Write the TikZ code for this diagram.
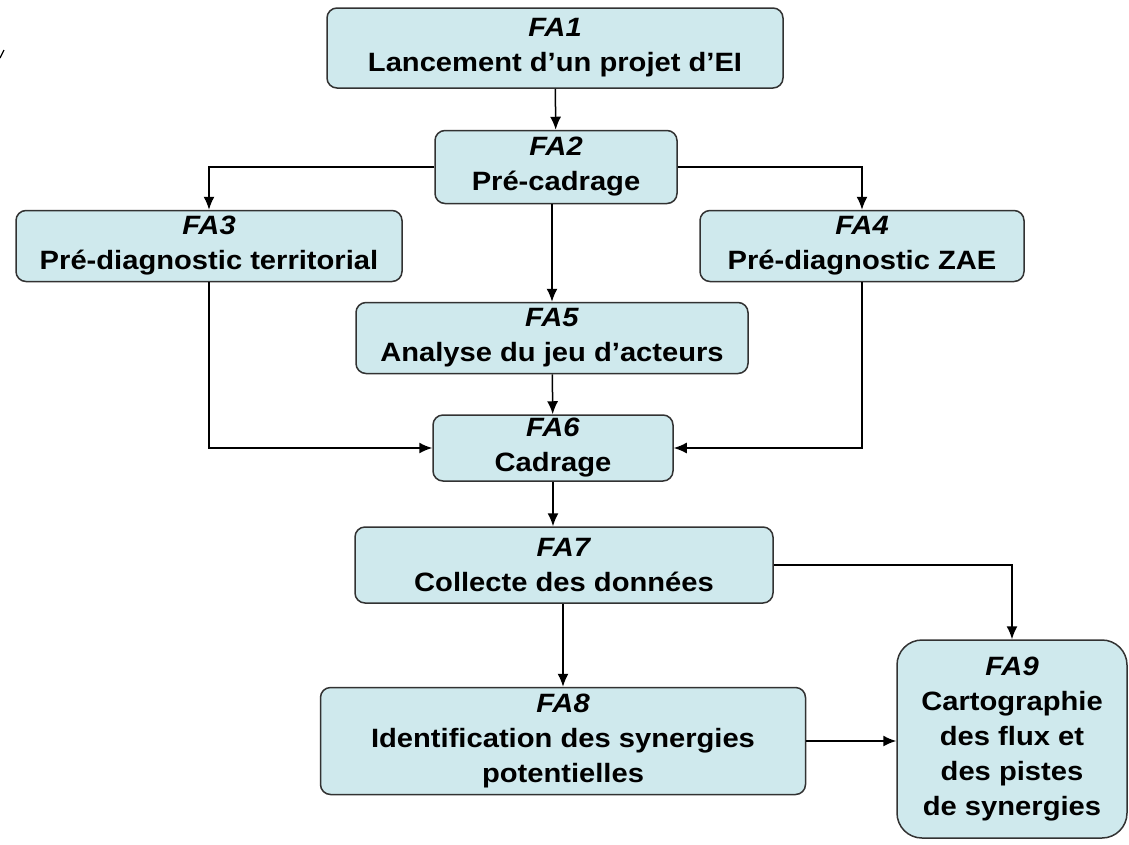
\documentclass[tikz,border=0pt]{standalone}
\usepackage{fontspec}
\setmainfont{Liberation Sans}[FakeStretch=1.1]
\usetikzlibrary{arrows.meta}
\definecolor{boxfill}{RGB}{207,233,237}
\definecolor{boxline}{RGB}{50,50,50}
\begin{document}
\begin{tikzpicture}[x=1pt,y=-1pt,
  fabox/.style={draw=boxline, line width=1.5pt, fill=boxfill, rounded corners=10pt, align=center, font=\fontsize{26.5}{35}\selectfont\bfseries, inner sep=0pt},
  conn/.style={line width=1.5pt, -{Latex[length=13pt,width=11pt]}}]
\useasboundingbox (0,0) rectangle (1129,844);
\node[fabox, minimum width=456pt, minimum height=80pt] (fa1) at (555,48) {\textit{FA1}\\Lancement d’un projet d’EI};
\node[fabox, minimum width=242pt, minimum height=73pt] (fa2) at (556,167) {\textit{FA2}\\Pré-cadrage};
\node[fabox, minimum width=386pt, minimum height=71pt] (fa3) at (209,246) {\textit{FA3}\\Pré-diagnostic territorial};
\node[fabox, minimum width=324pt, minimum height=71pt] (fa4) at (862,246) {\textit{FA4}\\Pré-diagnostic ZAE};
\node[fabox, minimum width=392pt, minimum height=71pt] (fa5) at (552,338) {\textit{FA5}\\Analyse du jeu d’acteurs};
\node[fabox, minimum width=240pt, minimum height=66pt] (fa6) at (553,448) {\textit{FA6}\\Cadrage};
\node[fabox, minimum width=418pt, minimum height=76pt] (fa7) at (564,565) {\textit{FA7}\\Collecte des données};
\node[fabox, minimum width=485pt, minimum height=107pt] (fa8) at (563,741) {\textit{FA8}\\Identification des synergies\\potentielles};
\node[fabox, rounded corners=25pt, minimum width=230pt, minimum height=198pt] (fa9) at (1012,739) {\textit{FA9}\\Cartographie\\des flux et\\des pistes\\de synergies};
\draw[conn] (fa1) -- (fa2);
\draw[conn] (fa2.west) -| (fa3.north);
\draw[conn] (fa2.east) -| (fa4.north);
\draw[conn] (fa5.north |- fa2.south) -- (fa5.north);
\draw[conn] (fa3.south) |- (fa6.west);
\draw[conn] (fa4.south) |- (fa6.east);
\draw[conn] (fa5) -- (fa6);
\draw[conn] (fa6.south) -- (fa6.south |- fa7.north);
\draw[conn] (fa7.east) -| (fa9.north);
\draw[conn] (fa8.north |- fa7.south) -- (fa8.north);
\draw[conn] (fa8.east) -- (fa8.east -| fa9.west);
\draw[line width=1.2pt] (0,58) -- (4,50);
\end{tikzpicture}
\end{document}
